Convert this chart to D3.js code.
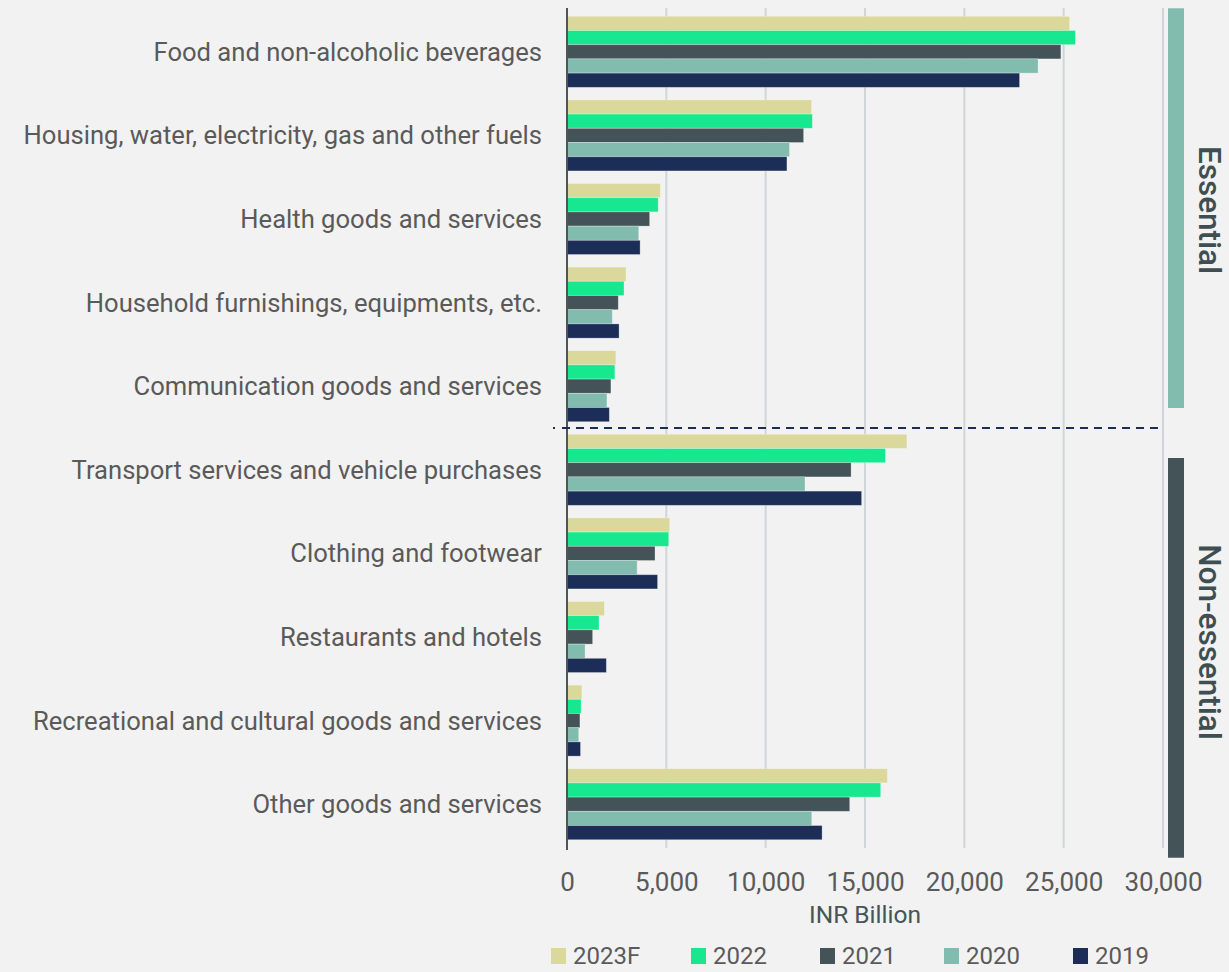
<!DOCTYPE html>
<html><head><meta charset="utf-8">
<script src="https://cdn.jsdelivr.net/npm/d3@7"></script>
<style>
html,body{margin:0;padding:0;background:#f2f2f2;}
svg{display:block;font-family:Roboto, "Noto Sans", sans-serif;}
</style></head>
<body><svg id="chart" width="1229" height="972"></svg>
<script>
const categories = [
  "Food and non-alcoholic beverages",
  "Housing, water, electricity, gas and other fuels",
  "Health goods and services",
  "Household furnishings, equipments, etc.",
  "Communication goods and services",
  "Transport services and vehicle purchases",
  "Clothing and footwear",
  "Restaurants and hotels",
  "Recreational and cultural goods and services",
  "Other goods and services"
];
const seriesNames = ["2023F","2022","2021","2020","2019"];
const v2023F = [25300,12310,4700,2970,2460,17110,5170,1880,750,16130];
const v2022  = [25590,12350,4590,2870,2410,16030,5120,1610,710,15790];
const v2021  = [24860,11910,4160,2580,2210,14300,4430,1290,650,14230];
const v2020  = [23710,11200,3610,2280,2010,11980,3530,910,590,12320];
const v2019  = [22780,11070,3680,2620,2130,14830,4560,1980,680,12840];
const seriesValues = [v2023F, v2022, v2021, v2020, v2019];
const colors = ["#dbd89c","#17e88f","#435357","#82bcae","#1c2e57"];
const xTicks = [0,5000,10000,15000,20000,25000,30000];
const groups = [{name:"Essential", color:"#82bcae"},{name:"Non-essential", color:"#435357"}];

const svg = d3.select("#chart");
const x = d3.scaleLinear().domain([0,30000]).range([567,1163]);
const y = d3.scaleBand().domain(categories).range([10,846]).paddingInner(0.15).paddingOuter(0.075);
const ySub = d3.scaleBand().domain(seriesNames).range([0,y.bandwidth()]);

// gridlines
svg.append("g").selectAll("line").data(xTicks.slice(1)).join("line")
  .attr("x1",d=>x(d)).attr("x2",d=>x(d)).attr("y1",8).attr("y2",848)
  .attr("stroke","#cfd6d8").attr("stroke-width",2);

// bars
const rows = categories.map((c,i)=>({c, vals: seriesNames.map((s,j)=>({s, v: seriesValues[j][i], col: colors[j]}))}));
const g = svg.append("g").selectAll("g").data(rows).join("g").attr("transform",d=>`translate(0,${y(d.c)})`);
g.selectAll("rect").data(d=>d.vals).join("rect")
  .attr("x",x(0)).attr("y",d=>ySub(d.s)).attr("width",d=>x(d.v)-x(0)).attr("height",ySub.bandwidth())
  .attr("fill",d=>d.col).attr("stroke","rgba(255,255,255,0.35)").attr("stroke-width",0.8);

// y axis line
svg.append("line").attr("x1",x(0)).attr("x2",x(0)).attr("y1",8).attr("y2",850)
  .attr("stroke","#4d5658").attr("stroke-width",2);

// category labels
svg.append("g").selectAll("text").data(categories).join("text")
  .attr("x",542).attr("y",d=>y(d)+y.bandwidth()/2).attr("dy","0.35em")
  .attr("text-anchor","end").attr("fill","#5a5a5a").attr("font-size",25.6).text(d=>d);

// x axis
const xAxis = svg.append("g").attr("transform","translate(0,848)")
  .call(d3.axisBottom(x).tickValues(xTicks).tickFormat(d3.format(",")).tickSize(0).tickPadding(25));
xAxis.select(".domain").remove();
xAxis.selectAll("text").attr("font-size",26).attr("fill","#5a5a5a").attr("font-family","Roboto, sans-serif");
svg.append("text").attr("x",(x(0)+x(30000))/2).attr("y",923).attr("text-anchor","middle")
  .attr("font-size",24.5).attr("fill","#455558").text("INR Billion");

// separator
const sepY = (y(categories[4])+y.bandwidth()+y(categories[5]))/2;
const dashes = ["2","7"].concat(d3.range(60).flatMap(()=>["8","6"])).join(",");
svg.append("line").attr("x1",553).attr("x2",1160).attr("y1",sepY).attr("y2",sepY)
  .attr("stroke","#1c2e57").attr("stroke-width",2).attr("stroke-dasharray",dashes);

// group bars
const gTop = [y(categories[0])-8, sepY+30];
const gBot = [sepY-20, y(categories[9])+y.bandwidth()+18];
const labelY = [210, 642];
groups.forEach((gr,i)=>{
  svg.append("rect").attr("x",1168).attr("y",gTop[i]).attr("width",16).attr("height",gBot[i]-gTop[i]).attr("fill",gr.color);
  svg.append("text").attr("transform",`translate(1199,${labelY[i]}) rotate(90)`)
    .attr("text-anchor","middle").attr("font-size",31.5).attr("font-weight",500).attr("fill","#3f4f51").text(gr.name);
});

// legend
const legX = [551,691,820,944,1073];
const leg = svg.append("g").selectAll("g").data(seriesNames).join("g").attr("transform",(d,i)=>`translate(${legX[i]},948)`);
leg.append("rect").attr("width",15).attr("height",16).attr("fill",(d,i)=>colors[i]);
leg.append("text").attr("x",22).attr("y",8).attr("dy","0.35em").attr("font-size",24).attr("fill","#5a5a5a").text(d=>d);
</script></body></html>
